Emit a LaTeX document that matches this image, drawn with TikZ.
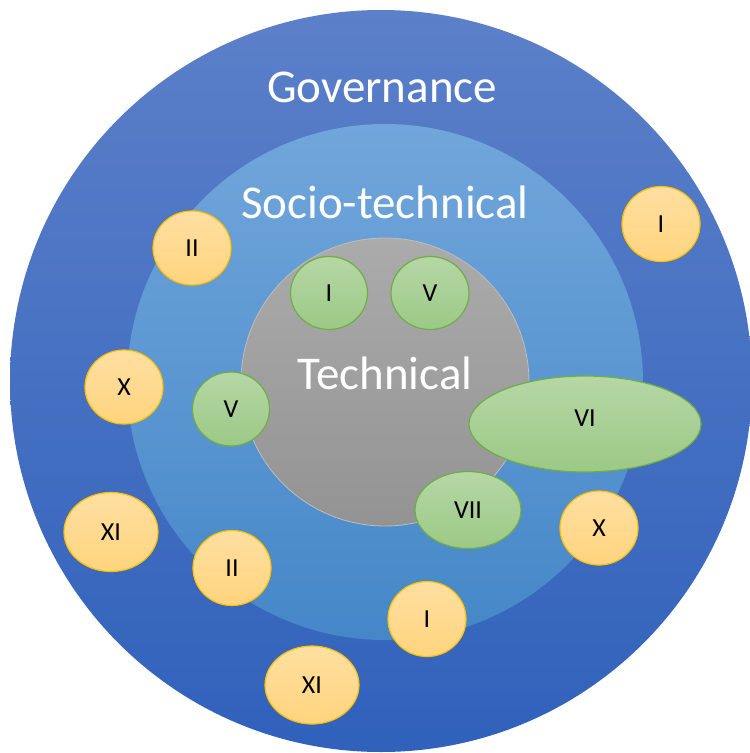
\documentclass[tikz,border=0pt]{standalone}
\usepackage{fontspec}
\setmainfont{Carlito}
\usetikzlibrary{shapes.geometric}
\definecolor{govtop}{HTML}{5C80C9}
\definecolor{govbot}{HTML}{3061BB}
\definecolor{soctop}{HTML}{71A6DB}
\definecolor{socbot}{HTML}{4587C8}
\definecolor{techtop}{HTML}{ABABAB}
\definecolor{techbot}{HTML}{939393}
\definecolor{techline}{HTML}{BDBDBD}
\definecolor{ortop}{HTML}{FFDFA1}
\definecolor{orbot}{HTML}{FFD47E}
\definecolor{orline}{HTML}{FFC000}
\definecolor{grtop}{HTML}{B5D7A5}
\definecolor{grbot}{HTML}{9CC986}
\definecolor{grline}{HTML}{70AD47}
\tikzset{
  ring/.style={circle, inner sep=0pt, draw=none},
  title/.style={text=white, font=\fontsize{47}{47}\selectfont, anchor=base, inner sep=0pt},
  orangebub/.style={ellipse, inner sep=0pt, draw=orline, line width=1.2pt,
    top color=ortop, bottom color=orbot, font=\fontsize{26}{26}\selectfont, text=black},
  greenbub/.style={ellipse, inner sep=0pt, draw=grline, line width=1.2pt,
    top color=grtop, bottom color=grbot, font=\fontsize{26}{26}\selectfont, text=black}
}
\begin{document}
\begin{tikzpicture}[x=1pt, y=-1pt]
\useasboundingbox (0,0) rectangle (750,753);
% rings
\node[ring, minimum size=742pt, top color=govtop, bottom color=govbot] (gov) at (381,381) {};
\node[ring, minimum size=516pt, top color=soctop, bottom color=socbot] (soc) at (385,382) {};
\node[ring, minimum size=288pt, top color=techtop, bottom color=techbot, draw=techline, line width=0.8pt] (tech) at (385,382) {};
% titles
\node[title] (tgov) at (382,102) {Governance};
\node[title] (tsoc) at (385,218) {Socio-technical};
\node[title] (ttech) at (385,389) {Technical};
% orange bubbles
\node[orangebub, minimum width=78pt, minimum height=74pt] (o1) at (192,248) {II};
\node[orangebub, minimum width=78pt, minimum height=75pt] (o2) at (661,224) {I};
\node[orangebub, minimum width=78pt, minimum height=74pt] (o3) at (124,387) {X};
\node[orangebub, minimum width=94pt, minimum height=79pt] (o4) at (111,532) {XI};
\node[orangebub, minimum width=78pt, minimum height=75pt] (o5) at (232,568) {II};
\node[orangebub, minimum width=78pt, minimum height=74pt] (o6) at (599,528) {X};
\node[orangebub, minimum width=78pt, minimum height=75pt] (o7) at (427,619) {I};
\node[orangebub, minimum width=94pt, minimum height=78pt] (o8) at (312,685) {XI};
% green bubbles
\node[greenbub, minimum width=77pt, minimum height=73pt] (g1) at (329,293) {I};
\node[greenbub, minimum width=78pt, minimum height=73pt] (g2) at (430,293) {V};
\node[greenbub, minimum width=77pt, minimum height=74pt] (g3) at (231,409) {V};
\node[greenbub, minimum width=232pt, minimum height=96pt] (g4) at (585,424) {\raisebox{6pt}[\height][\depth]{VI}};
\node[greenbub, minimum width=106pt, minimum height=77pt] (g5) at (468,510) {VII};
\end{tikzpicture}
\end{document}
